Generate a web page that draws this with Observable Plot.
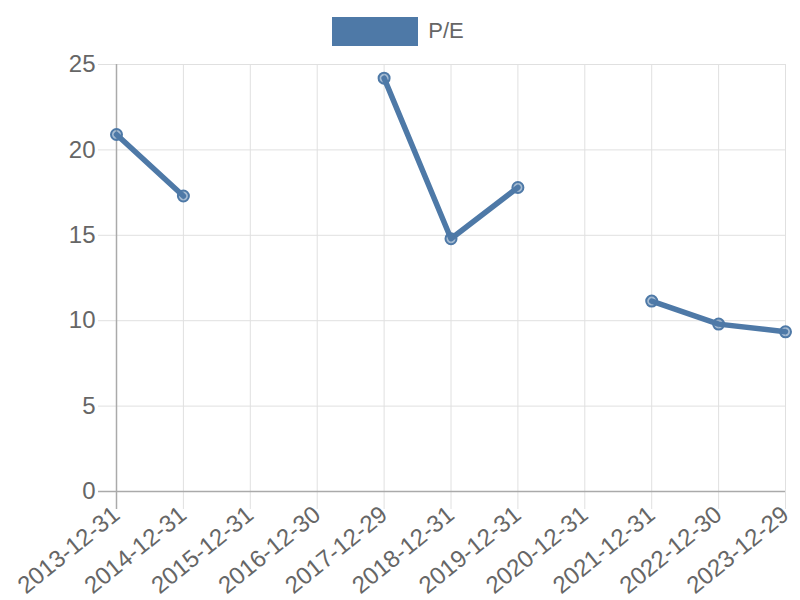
<!DOCTYPE html>
<html>
<head>
<meta charset="utf-8">
<script src="https://cdn.jsdelivr.net/npm/d3@7"></script>
<script src="https://cdn.jsdelivr.net/npm/@observablehq/plot@0.6"></script>
<style>
  html, body { margin: 0; padding: 0; background: #fff; overflow: hidden; }
  body { width: 800px; height: 600px; position: relative; font-family: "Liberation Sans", Arial, sans-serif; }
  #legend { position: absolute; left: 0; top: 0; width: 796px; height: 62px; display: flex; align-items: center; justify-content: center; gap: 10px; z-index: 2; }
  #legend .sw { width: 86px; height: 29px; background: #4e79a7; }
  #legend .lb { font-size: 22px; color: #666; }
  #chart { position: absolute; left: 0; top: 0; }
  #chart svg { display: block; max-width: none !important; }
</style>
</head>
<body>
<div id="chart"></div>
<div id="legend"><div class="sw"></div><div class="lb">P/E</div></div>
<script>
const dates = ["2013-12-31","2014-12-31","2015-12-31","2016-12-30","2017-12-29","2018-12-31","2019-12-31","2020-12-31","2021-12-31","2022-12-30","2023-12-29"];
const pe = [20.9, 17.3, null, null, 24.2, 14.8, 17.8, null, 11.15, 9.8, 9.35];
const yTicks = [0, 5, 10, 15, 20, 25];

const data = dates.map((d, i) => ({date: d, pe: pe[i] == null ? NaN : pe[i]}));
const pts = data.filter(d => !isNaN(d.pe));
const blue = "#4e79a7";
const grid = "#e0e0e0";
const axisC = "#aaaaaa";

const chart = Plot.plot({
  width: 800,
  height: 600,
  marginLeft: 116,
  marginRight: 15,
  marginTop: 64,
  marginBottom: 109,
  style: {fontFamily: "'Liberation Sans', Arial, sans-serif", fontSize: "24px", color: "#666", background: "transparent", maxWidth: "none"},
  x: {type: "point", domain: dates, padding: 0, round: false},
  y: {domain: [0, 25]},
  marks: [
    Plot.gridX({stroke: grid, strokeOpacity: 1, strokeWidth: 1}),
    Plot.gridY({ticks: yTicks, stroke: grid, strokeOpacity: 1, strokeWidth: 1}),
    Plot.axisX({tickSize: 18, tickPadding: 2, tickRotate: -39, fontSize: 24, fill: "#666", stroke: grid, strokeOpacity: 1, label: null}),
    Plot.axisX([dates[0]], {tickSize: 18, tickFormat: () => "", stroke: axisC, strokeOpacity: 1, strokeWidth: 1.5, label: null}),
    Plot.axisY({ticks: yTicks, tickSize: 18, tickPadding: 3, fontSize: 24, fill: "#666", stroke: grid, strokeOpacity: 1, label: null}),
    Plot.axisY([0], {tickSize: 18, tickFormat: () => "", stroke: axisC, strokeOpacity: 1, strokeWidth: 1.5, label: null}),
    Plot.ruleX([dates[0]], {x: d => d, y1: 0, y2: 25, stroke: axisC, strokeWidth: 1.5}),
    Plot.ruleY([0], {stroke: axisC, strokeWidth: 1.5}),
    Plot.line(data, {x: "date", y: "pe", stroke: blue, strokeWidth: 5.5, strokeLinejoin: "round", strokeLinecap: "round"}),
    Plot.dot(pts, {x: "date", y: "pe", r: 5.5, fill: blue, fillOpacity: 0.5, stroke: blue, strokeWidth: 2})
  ]
});
document.getElementById("chart").appendChild(chart);
</script>
</body>
</html>
